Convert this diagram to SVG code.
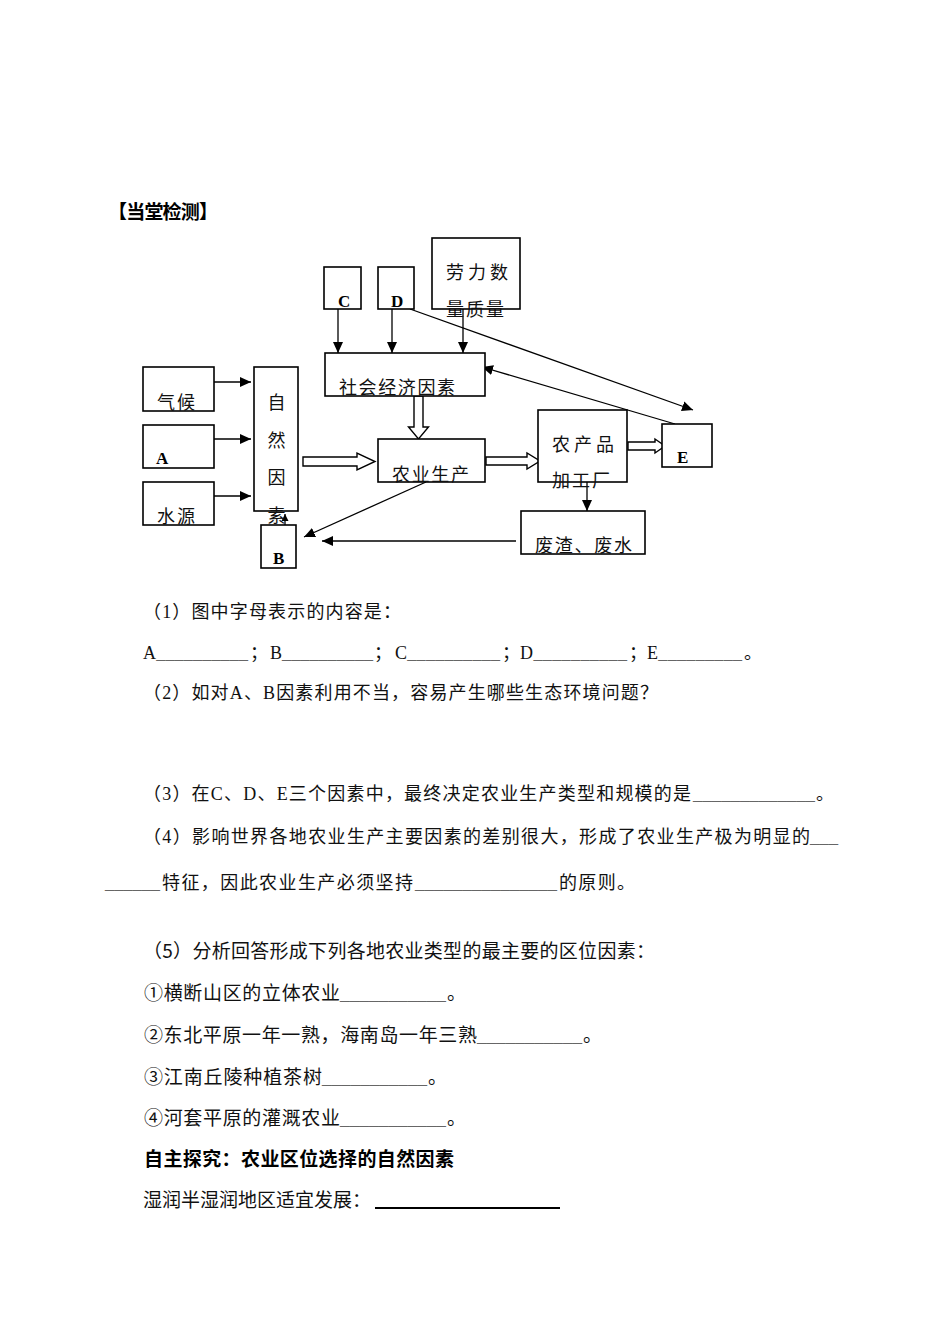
<svg xmlns="http://www.w3.org/2000/svg" width="950" height="1342" viewBox="0 0 950 1342">
<style>
  .box { fill: #fff; stroke: #000; stroke-width: 1.6; }
  .ln { stroke: #000; stroke-width: 1.3; fill: none; }
  .blk { fill: #fff; stroke: #000; stroke-width: 1.4; stroke-linejoin: miter; }
  .lbl { font-family: "Noto Sans CJK SC", sans-serif; font-size: 18px; fill: #111; }
  .let { font-family: "Liberation Serif", serif; font-size: 17px; font-weight: bold; fill: #000; }
  .q { font-family: "Liberation Serif", "Noto Sans CJK SC", serif; font-size: 18px; fill: #111; }
  .t { font-family: "Noto Sans CJK SC", sans-serif; font-size: 19px; fill: #111; }
  .b { font-family: "Noto Sans CJK SC", sans-serif; font-size: 19px; font-weight: bold; fill: #000; }
  .us { font-family: "Liberation Serif", serif; font-size: 18px; fill: #666; }
  .ug { fill: #666; }
</style>
<defs>
  <marker id="ah" markerUnits="userSpaceOnUse" markerWidth="12" markerHeight="12" viewBox="0 0 12 12" refX="11" refY="6" orient="auto">
    <path d="M0,1 L11,6 L0,11 Z" fill="#000"/>
  </marker>
  <marker id="ahs" markerUnits="userSpaceOnUse" markerWidth="8" markerHeight="8" viewBox="0 0 8 8" refX="7" refY="4" orient="auto">
    <path d="M0,0.5 L7,4 L0,7.5 Z" fill="#000"/>
  </marker>
</defs>

<rect width="950" height="1342" fill="#fff"/>

<text class="b" x="108" y="219" textLength="110" lengthAdjust="spacing">【当堂检测】</text>

<g id="connectors">
  <line class="ln" x1="338" y1="309" x2="338" y2="353" marker-end="url(#ah)"/>
  <line class="ln" x1="392" y1="309" x2="392" y2="353" marker-end="url(#ah)"/>
  <line class="ln" x1="463" y1="309" x2="463" y2="353" marker-end="url(#ah)"/>
  <line class="ln" x1="410" y1="309" x2="693" y2="410" marker-end="url(#ah)"/>
  <line class="ln" x1="675" y1="424" x2="482" y2="367" marker-end="url(#ah)"/>
  <line class="ln" x1="214" y1="382" x2="251" y2="382" marker-end="url(#ah)"/>
  <line class="ln" x1="214" y1="439" x2="251" y2="439" marker-end="url(#ah)"/>
  <line class="ln" x1="214" y1="496" x2="251" y2="496" marker-end="url(#ah)"/>
  <line class="ln" x1="587" y1="482" x2="587" y2="511" marker-end="url(#ah)"/>
  <line class="ln" x1="516" y1="541" x2="322" y2="541" marker-end="url(#ah)"/>
  <line class="ln" x1="426" y1="482" x2="304" y2="537" marker-end="url(#ah)"/>
  <line class="ln" x1="285" y1="525" x2="285" y2="514" marker-end="url(#ahs)"/>
  <polygon class="blk" points="303,457 357,457 357,453 375,461.5 357,470 357,466 303,466"/>
  <polygon class="blk" points="414,396 423,396 423,427 428.5,427 418.5,439 408.5,427 414,427"/>
  <polygon class="blk" points="486,457 527,457 527,453 540,461 527,469 527,465 486,465"/>
  <polygon class="blk" points="628,442 655,442 655,439 665,446 655,453 655,450 628,450"/>
</g>

<g id="node-C"><rect class="box" x="324" y="267" width="37" height="42"/><text class="let" x="338" y="307">C</text></g>
<g id="node-D"><rect class="box" x="378" y="267" width="36" height="42"/><text class="let" x="391" y="307">D</text></g>
<g id="node-labor"><rect class="box" x="432" y="238" width="88" height="71"/>
  <text class="lbl" x="446" y="279" textLength="62" lengthAdjust="spacing">劳力数</text>
  <text class="lbl" x="446" y="316" textLength="58" lengthAdjust="spacing">量质量</text></g>
<g id="node-socio"><rect class="box" x="325" y="353" width="160" height="43"/>
  <text class="lbl" x="339" y="394" textLength="116" lengthAdjust="spacing">社会经济因素</text></g>
<g id="node-climate"><rect class="box" x="143" y="367" width="71" height="44"/>
  <text class="lbl" x="157" y="409" textLength="38" lengthAdjust="spacing">气候</text></g>
<g id="node-A"><rect class="box" x="143" y="425" width="71" height="43"/>
  <text class="let" x="156" y="464">A</text></g>
<g id="node-water"><rect class="box" x="143" y="482" width="71" height="43"/>
  <text class="lbl" x="157" y="523" textLength="38" lengthAdjust="spacing">水源</text></g>
<g id="node-natural"><rect class="box" x="254" y="367" width="44" height="144"/>
  <text class="lbl" x="276.5" y="409" text-anchor="middle">自</text>
  <text class="lbl" x="276.5" y="447" text-anchor="middle">然</text>
  <text class="lbl" x="276.5" y="484" text-anchor="middle">因</text>
  <text class="lbl" x="276.5" y="522" text-anchor="middle">素</text></g>
<g id="node-B"><rect class="box" x="261" y="525" width="35" height="43"/>
  <text class="let" x="273" y="564">B</text></g>
<g id="node-agri"><rect class="box" x="378" y="439" width="107" height="43"/>
  <text class="lbl" x="392" y="481" textLength="77" lengthAdjust="spacing">农业生产</text></g>
<g id="node-factory"><rect class="box" x="538" y="410" width="89" height="72"/>
  <text class="lbl" x="552" y="451" textLength="62" lengthAdjust="spacing">农产品</text>
  <text class="lbl" x="552" y="487" textLength="58" lengthAdjust="spacing">加工厂</text></g>
<g id="node-E"><rect class="box" x="662" y="424" width="50" height="43"/>
  <text class="let" x="677" y="463">E</text></g>
<g id="node-waste"><rect class="box" x="521" y="511" width="124" height="43"/>
  <text class="lbl" x="535" y="552" textLength="97" lengthAdjust="spacing">废渣、废水</text></g>

<g id="questions">
  <text class="q" x="143" y="618" textLength="258" lengthAdjust="spacing">（1）图中字母表示的内容是：</text>

  <text class="q" x="143" y="659" textLength="105" lengthAdjust="spacing">A<tspan class="ug">__________</tspan></text>
  <text class="q" x="250" y="659">；</text>
  <text class="q" x="270" y="659" textLength="103" lengthAdjust="spacing">B<tspan class="ug">__________</tspan></text>
  <text class="q" x="374" y="659">；</text>
  <text class="q" x="395" y="659" textLength="105" lengthAdjust="spacing">C<tspan class="ug">__________</tspan></text>
  <text class="q" x="502" y="659">；</text>
  <text class="q" x="520" y="659" textLength="107" lengthAdjust="spacing">D<tspan class="ug">__________</tspan></text>
  <text class="q" x="629" y="659">；</text>
  <text class="q" x="647" y="659" textLength="95" lengthAdjust="spacing">E<tspan class="ug">_________</tspan></text>
  <text class="q" x="744" y="659">。</text>

  <text class="q" x="143" y="699" textLength="515" lengthAdjust="spacing">（2）如对A、B因素利用不当，容易产生哪些生态环境问题？</text>

  <text class="q" x="143" y="800" textLength="548" lengthAdjust="spacing">（3）在C、D、E三个因素中，最终决定农业生产类型和规模的是</text>
  <text class="us" x="693" y="800" textLength="122" lengthAdjust="spacingAndGlyphs">_____________</text>
  <text class="q" x="816" y="800">。</text>

  <text class="q" x="143" y="843" textLength="667" lengthAdjust="spacing">（4）影响世界各地农业生产主要因素的差别很大，形成了农业生产极为明显的</text>
  <text class="us" x="810" y="843" textLength="28" lengthAdjust="spacingAndGlyphs">___</text>

  <text class="us" x="105" y="889" textLength="55" lengthAdjust="spacingAndGlyphs">______</text>
  <text class="q" x="162" y="889" textLength="251" lengthAdjust="spacing">特征，因此农业生产必须坚持</text>
  <text class="us" x="415" y="889" textLength="142" lengthAdjust="spacingAndGlyphs">_______________</text>
  <text class="q" x="559" y="889" textLength="76" lengthAdjust="spacing">的原则。</text>

  <text class="t" x="143" y="958" textLength="512" lengthAdjust="spacing">（5）分析回答形成下列各地农业类型的最主要的区位因素：</text>

  <text class="t" x="144" y="1000" textLength="196" lengthAdjust="spacing">①横断山区的立体农业</text>
  <text class="us" x="340" y="1000" textLength="106" lengthAdjust="spacingAndGlyphs">___________</text>
  <text class="t" x="447" y="1000">。</text>

  <text class="t" x="144" y="1042" textLength="333" lengthAdjust="spacing">②东北平原一年一熟，海南岛一年三熟</text>
  <text class="us" x="477" y="1042" textLength="105" lengthAdjust="spacingAndGlyphs">___________</text>
  <text class="t" x="583" y="1042">。</text>

  <text class="t" x="144" y="1084" textLength="178" lengthAdjust="spacing">③江南丘陵种植茶树</text>
  <text class="us" x="322" y="1084" textLength="105" lengthAdjust="spacingAndGlyphs">___________</text>
  <text class="t" x="428" y="1084">。</text>

  <text class="t" x="144" y="1125" textLength="196" lengthAdjust="spacing">④河套平原的灌溉农业</text>
  <text class="us" x="340" y="1125" textLength="106" lengthAdjust="spacingAndGlyphs">___________</text>
  <text class="t" x="447" y="1125">。</text>

  <text class="b" x="144" y="1166" textLength="310" lengthAdjust="spacing">自主探究：农业区位选择的自然因素</text>
  <text class="t" x="143" y="1207" textLength="228" lengthAdjust="spacing">湿润半湿润地区适宜发展：</text>
  <line x1="375" y1="1208" x2="560" y2="1208" stroke="#000" stroke-width="2"/>
</g>
</svg>
